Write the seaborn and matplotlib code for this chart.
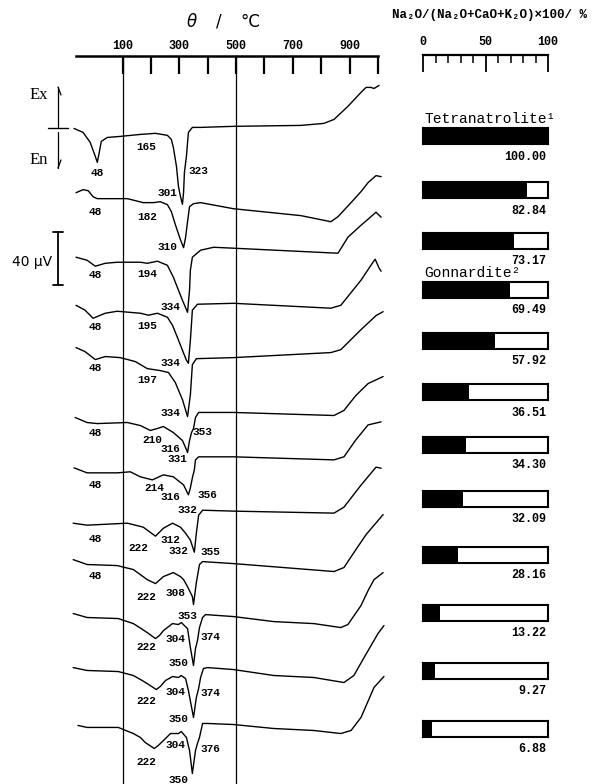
import numpy as np
import pandas as pd
import matplotlib
matplotlib.use("Agg")
import matplotlib.pyplot as plt
from matplotlib.lines import Line2D
import seaborn as sns

sns.set_theme(style="white")
plt.rcParams['font.family'] = ['Liberation Mono', 'DejaVu Sans Mono', 'DejaVu Sans']
plt.rcParams['text.color'] = 'black'
plt.rcParams['xtick.color'] = 'black'
plt.rcParams['axes.edgecolor'] = 'black'

# ---------------- DATA ----------------
# DTA curves: temperature (deg C on the top axis) and signal (uV, relative to curve baseline)
T_c1 = [-71, -39, -14, 4, 11, 18, 25, 46, 92, 163, 216, 258, 272, 279, 290, 297, 304, 311, 315, 318, 325, 332, 346, 375, 491, 728, 809, 845, 894, 940, 958, 975, 986, 1004]
V_c1 = [6.0, 3.0, -4.5, -15.1, -19.6, -12.1, -3.8, -0.8, 0, 1.5, 2.3, 0.8, -2.3, -8.3, -22.7, -37.8, -45.3, -51.3, -42.3, -27.2, -15.1, 3.0, 6.8, 6.8, 7.6, 8.3, 9.8, 12.8, 22.7, 33.2, 37.0, 37.0, 36.2, 38.5]

T_c2 = [-64, -39, -21, -4, 11, 57, 117, 173, 209, 233, 258, 272, 286, 304, 315, 322, 329, 336, 350, 375, 491, 728, 834, 859, 905, 940, 965, 993, 1011]
V_c2 = [4.5, 6.8, 6.0, 1.5, 0, 0, 0, -3.0, -3.0, -2.3, -4.5, -9.8, -19.6, -31.0, -37.0, -29.4, -17.4, -6.0, -3.8, -3.0, -7.6, -12.8, -17.4, -13.6, -3.0, 5.3, 12.1, 17.4, 16.6]

T_c3 = [-64, -25, 4, 39, 81, 163, 187, 223, 258, 279, 297, 311, 329, 336, 339, 346, 375, 421, 491, 859, 894, 940, 965, 993, 1011]
V_c3 = [3.8, 1.5, -3.0, -0.8, 0, 0, -0.8, 0.8, -2.3, -11.3, -21.1, -28.7, -37.8, -21.1, -6.0, 3.8, 9.1, 11.3, 10.6, 6.8, 18.9, 27.9, 32.5, 37.8, 34.0]

T_c4 = [-64, -32, -4, 39, 81, 163, 191, 223, 258, 276, 293, 311, 325, 332, 339, 346, 364, 491, 834, 869, 940, 975, 990, 1004, 1011]
V_c4 = [4.5, 0.8, -5.3, -1.5, 0, -1.5, -3.0, -1.5, -4.5, -10.6, -19.6, -29.4, -37.0, -39.3, -21.9, 0.8, 5.3, 6.0, 2.3, 4.5, 23.4, 34.7, 39.3, 32.5, 30.2]

T_c5 = [-64, -32, 4, 39, 92, 145, 187, 233, 262, 286, 311, 329, 339, 346, 360, 491, 834, 869, 940, 993, 1018]
V_c5 = [7.6, 4.5, -1.5, 0.8, 0, -3.0, -8.3, -9.8, -11.3, -18.9, -31.7, -44.5, -27.9, -5.3, -0.8, 0, 3.8, 6.0, 21.1, 31.7, 34.7]

T_c6 = [-67, -25, 11, 117, 163, 198, 223, 244, 279, 311, 322, 329, 336, 343, 350, 357, 368, 491, 845, 880, 922, 965, 1018]
V_c6 = [3.8, 0, -0.8, 0, -2.3, -6.0, -4.5, -3.0, -7.6, -13.6, -18.9, -22.7, -13.6, -7.6, -4.5, 3.8, 7.6, 7.6, 5.3, 9.1, 20.4, 29.4, 34.7]

T_c7 = [-71, -25, 81, 127, 163, 205, 244, 279, 315, 332, 339, 346, 353, 357, 368, 491, 845, 880, 922, 965, 1011]
V_c7 = [3.8, 0, 0, 0.8, -3.0, -5.3, -1.5, -3.0, -9.1, -16.6, -11.3, -3.8, 2.3, 9.8, 12.1, 12.1, 9.8, 12.1, 24.9, 36.2, 38.5]

T_c8 = [-74, -25, 117, 173, 216, 244, 276, 304, 322, 339, 353, 360, 368, 382, 491, 845, 880, 940, 993, 1011]
V_c8 = [0, -1.5, 0, -3.0, -9.8, -3.8, 0, -3.0, -7.6, -12.8, -21.9, -7.6, 6.0, 9.8, 9.1, 7.6, 12.1, 28.7, 42.3, 41.5]

T_c9 = [-74, -25, 81, 138, 187, 216, 244, 279, 304, 315, 329, 346, 350, 360, 371, 382, 491, 845, 880, 915, 958, 1018]
V_c9 = [4.5, 0.8, 0, -3.0, -10.6, -13.6, -8.3, -5.3, -8.3, -10.6, -15.9, -23.4, -29.4, -12.8, 0.8, 3.0, 1.5, -4.5, -1.5, 9.8, 23.4, 38.5]

T_c10 = [-74, -25, 85, 138, 166, 187, 216, 230, 244, 276, 297, 307, 318, 329, 339, 350, 357, 364, 371, 382, 392, 491, 633, 774, 869, 894, 940, 965, 986, 1018]
V_c10 = [3.8, 0.8, 0, -3.8, -7.6, -10.6, -15.1, -12.8, -9.1, -3.8, -4.5, -3.0, -5.3, -7.6, -21.9, -35.5, -22.7, -16.6, -6.8, 0.8, 3.0, 1.5, -2.3, -3.8, -6.8, -4.5, 9.8, 21.1, 29.4, 34.7]

T_c11 = [-74, -25, 85, 138, 163, 187, 219, 233, 251, 276, 297, 307, 322, 332, 350, 360, 368, 375, 385, 399, 491, 633, 774, 880, 915, 951, 1000, 1021]
V_c11 = [3.0, 0.8, 0, -3.0, -6.0, -9.1, -13.6, -11.3, -6.8, -3.8, -4.5, -3.0, -5.3, -14.3, -34.7, -19.6, -12.8, -4.5, 2.3, 3.0, 1.5, -3.0, -4.5, -8.3, -3.0, 10.6, 28.7, 34.7]

T_c12 = [-57, -25, 85, 138, 163, 180, 212, 226, 244, 269, 297, 307, 325, 336, 346, 357, 364, 371, 382, 399, 491, 633, 774, 869, 905, 940, 986, 1021]
V_c12 = [2.3, 0.8, 0.8, -3.8, -6.8, -10.6, -15.1, -12.8, -9.1, -3.8, -3.8, -2.3, -6.8, -16.6, -34.0, -16.6, -11.3, -6.8, 3.8, 3.8, 3.0, 0, -1.5, -3.8, -1.5, 8.3, 31.0, 39.3]

curve_T = [T_c1, T_c2, T_c3, T_c4, T_c5, T_c6, T_c7, T_c8, T_c9, T_c10, T_c11, T_c12]
curve_V = [V_c1, V_c2, V_c3, V_c4, V_c5, V_c6, V_c7, V_c8, V_c9, V_c10, V_c11, V_c12]
# vertical stacking offsets of the curves (uV)
curve_offset = [-103, -150, -198, -235, -270, -319, -357, -395, -427, -467, -507, -550]

# peak temperature annotations: (text, T position, uV position)
peak_labels = [
    ("48", 11, -130.6), ("165", 184, -111.0), ("301", 258, -145.7), ("323", 368, -129.1),
    ("48", 4, -160.1), ("182", 187, -163.8), ("310", 258, -186.5),
    ("48", 4, -207.6), ("194", 187, -206.9), ("334", 269, -231.8),
    ("48", 4, -246.9), ("195", 187, -246.1), ("334", 269, -274.1),
    ("48", 4, -277.8), ("197", 187, -286.9), ("334", 269, -311.8),
    ("48", 4, -326.9), ("210", 205, -332.2), ("316", 269, -339.0), ("331", 293, -346.5), ("353", 382, -326.2),
    ("48", 4, -366.2), ("214", 212, -368.4), ("316", 269, -375.2), ("356", 399, -373.7), ("332", 329, -385.1),
    ("48", 4, -406.9), ("222", 156, -413.7), ("312", 269, -407.7), ("332", 297, -416.0), ("355", 410, -416.8),
    ("48", 4, -434.9), ("222", 184, -450.7), ("308", 286, -447.7), ("353", 329, -465.1),
    ("222", 184, -488.5), ("304", 286, -482.4), ("374", 410, -480.9), ("350", 297, -500.6),
    ("222", 184, -529.3), ("304", 286, -522.5), ("374", 410, -523.2), ("350", 297, -542.8),
    ("222", 184, -575.3), ("304", 286, -562.5), ("376", 410, -565.5), ("350", 297, -588.9),
]

temp_ticks = [100, 200, 300, 400, 500, 600, 700, 800, 900, 1000]
temp_ticklabels = ["100", "", "300", "", "500", "", "700", "", "900", ""]

# Na2O/(Na2O+CaO+K2O)x100 / %
sample_pct = [100.00, 82.84, 73.17, 69.49, 57.92, 36.51, 34.30, 32.09, 28.16, 13.22, 9.27, 6.88]
sample_names = ["Tetranatrolite\u00b9", "", "", "Gonnardite\u00b2", "", "", "", "", "", "", "", ""]

# ---------------- LAYOUT ----------------
W, H = 595, 784
bar_row_top_px = [128, 182, 233, 282, 333, 384, 437, 491, 547, 605, 663, 721]
BAR_H = 16
BAR_X0, BAR_W = 423, 125

fig = plt.figure(figsize=(W / 100, H / 100), dpi=100)
fig.patch.set_facecolor('white')


def fx(x):
    return x / W


def fy(y):
    return 1 - y / H


# ---- DTA panel ----
ax = fig.add_axes([fx(76), 0, fx(378) - fx(76), fy(56)])
rows = []
for i, (ts, vs) in enumerate(zip(curve_T, curve_V)):
    for t, v in zip(ts, vs):
        rows.append({"T": t, "signal": curve_offset[i] + v, "curve": i})
df = pd.DataFrame(rows)
sns.lineplot(data=df, x="T", y="signal", units="curve", estimator=None, sort=False,
             color="black", linewidth=1.0, ax=ax)
for ln in ax.lines:
    ln.set_clip_on(False)
    ln.set_solid_joinstyle('round')

ax.set_xlim(-64, 1000)
ax.set_ylim(-591.9, -42.3)
ax.set_xlabel("")
ax.set_ylabel("")
ax.set_yticks([])
ax.xaxis.set_ticks_position('top')
ax.xaxis.set_label_position('top')
ax.set_xticks(temp_ticks)
ax.set_xticklabels(temp_ticklabels, fontweight='bold', fontsize=8.5)
ax.tick_params(axis='x', direction='in', length=13, width=1.6, pad=3)
for s in ['left', 'right', 'bottom']:
    ax.spines[s].set_visible(False)
ax.spines['top'].set_linewidth(1.8)
ax.patch.set_alpha(0)
ax.axvline(100, color='black', lw=0.9)
ax.axvline(500, color='black', lw=0.9)

for txt, t, v in peak_labels:
    ax.text(t, v, txt, ha='center', va='center', fontsize=8, fontweight='bold', clip_on=False)

# 40 uV scale bar
sb_T = -127
sb_top = -175.2
ax.plot([sb_T, sb_T], [sb_top, sb_top - 40], color='black', lw=1.3, clip_on=False)
ax.plot([sb_T - 17, sb_T + 17], [sb_top, sb_top], color='black', lw=1.3, clip_on=False)
ax.plot([sb_T - 17, sb_T + 17], [sb_top - 40, sb_top - 40], color='black', lw=1.3, clip_on=False)

# title of temperature axis
fig.text(fx(192), fy(22), r"$\theta$", ha='center', va='center', fontsize=12, family='DejaVu Serif')
fig.text(fx(219), fy(22), "/", ha='center', va='center', fontsize=12, family='DejaVu Sans')
fig.text(fx(250), fy(22), "\u00b0C", ha='center', va='center', fontsize=12, family='DejaVu Sans')

# Ex / En labels and arrows
fig.text(fx(48), fy(95), "Ex", ha='right', va='center', fontsize=12, family='Liberation Serif')
fig.text(fx(48), fy(160), "En", ha='right', va='center', fontsize=12, family='Liberation Serif')
fig.add_artist(Line2D([fx(48), fx(68)], [fy(128), fy(128)], color='black', lw=1.0))
fig.add_artist(Line2D([fx(58), fx(58)], [fy(128), fy(87)], color='black', lw=0.9))
fig.add_artist(Line2D([fx(58), fx(61)], [fy(87), fy(95)], color='black', lw=0.9))
fig.add_artist(Line2D([fx(58), fx(58)], [fy(132), fy(168)], color='black', lw=0.9))
fig.add_artist(Line2D([fx(58), fx(61)], [fy(168), fy(160)], color='black', lw=0.9))
fig.text(fx(52), fy(262), "40 \u00b5V", ha='right', va='center', fontsize=10, family='DejaVu Sans')

# ---- composition panel ----
fig.text(fx(392), fy(15), "Na\u2082O/(Na\u2082O+CaO+K\u2082O)\u00d7100/ %", ha='left', va='center',
         fontsize=9.0, fontweight='bold')

axs = fig.add_axes([fx(BAR_X0), fy(72), BAR_W / W, 17 / H])
axs.set_xlim(0, 100)
axs.set_yticks([])
axs.xaxis.set_ticks_position('top')
axs.set_xticks([0, 50, 100])
axs.set_xticklabels(["0", "50", "100"], fontweight='bold', fontsize=8.5)
axs.set_xticks(range(10, 100, 10), minor=True)
axs.tick_params(axis='x', which='major', direction='in', length=12, width=1.3, pad=5)
axs.tick_params(axis='x', which='minor', direction='in', length=6, width=1.1, top=True, bottom=False)
for s in ['left', 'right', 'bottom']:
    axs.spines[s].set_visible(False)
axs.spines['top'].set_linewidth(1.6)
axs.patch.set_alpha(0)

for i, (pct, name) in enumerate(zip(sample_pct, sample_names)):
    top = bar_row_top_px[i]
    axb = fig.add_axes([fx(BAR_X0), fy(top + BAR_H), BAR_W / W, BAR_H / H])
    dfb = pd.DataFrame({"sample": [str(i)], "pct": [pct]})
    sns.barplot(data=dfb, x="pct", y="sample", color="black", saturation=1, width=1.0,
                linewidth=0, ax=axb)
    axb.set_xlim(0, 100)
    axb.set_ylim(0.5, -0.5)
    axb.set_xticks([])
    axb.set_yticks([])
    axb.set_xlabel("")
    axb.set_ylabel("")
    for s in axb.spines.values():
        s.set_visible(True)
        s.set_linewidth(1.5)
        s.set_color('black')
    axb.annotate(f"{pct:.2f}", xy=(1, 0), xycoords='axes fraction', xytext=(-1, -9),
                 textcoords='offset points', ha='right', va='center', fontsize=8.5,
                 fontweight='bold', annotation_clip=False)
    if name:
        axb.annotate(name, xy=(0, 1), xycoords='axes fraction', xytext=(1, 6.5),
                     textcoords='offset points', ha='left', va='center', fontsize=10.5,
                     annotation_clip=False)

fig.savefig("out.png", dpi=100, facecolor='white')
